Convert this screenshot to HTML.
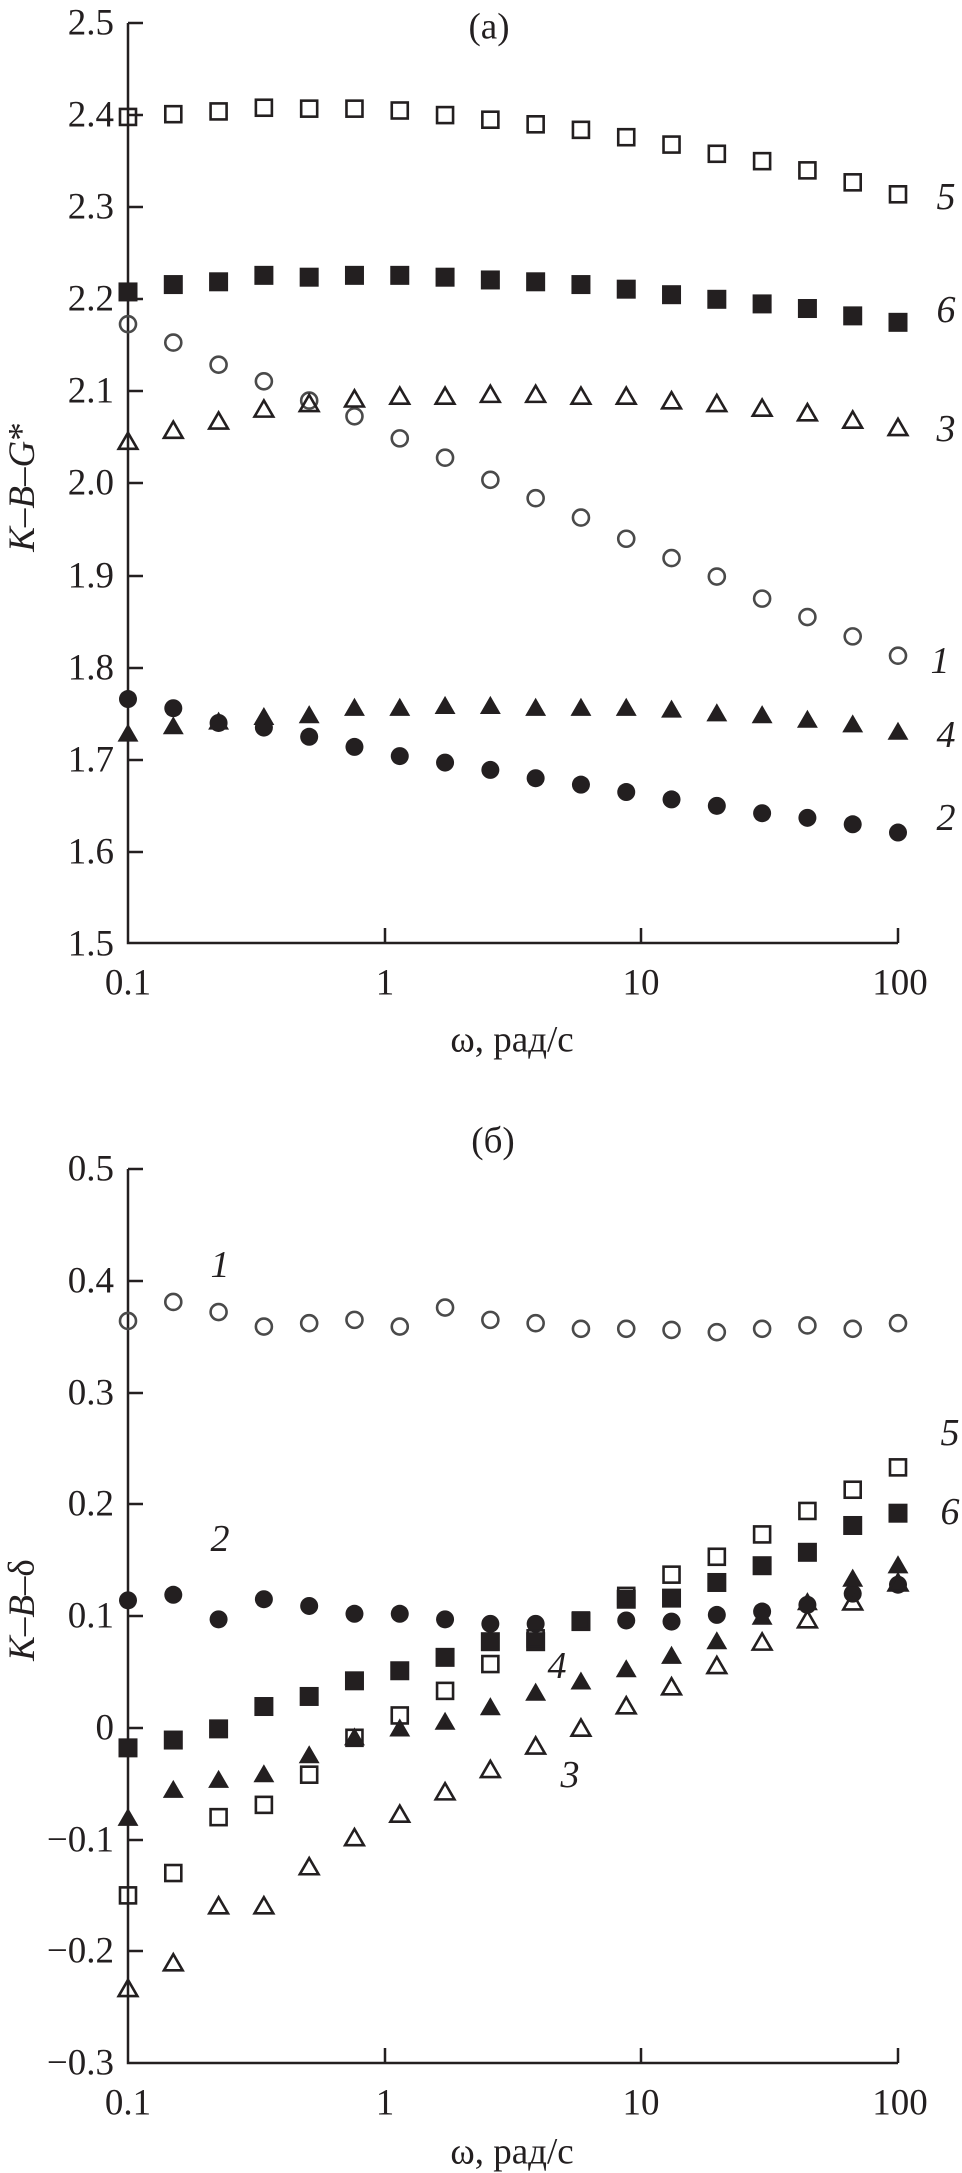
<!DOCTYPE html>
<html><head><meta charset="utf-8"><style>
html,body{margin:0;padding:0;background:#fff;}
svg{display:block;}
text{font-family:"Liberation Serif",serif;fill:#231f20;}
.t{font-size:37px;}
.l{font-size:38px;font-style:italic;}
</style></head><body>
<svg id="s" width="962" height="2173" viewBox="0 0 962 2173" xmlns="http://www.w3.org/2000/svg">
<g stroke="#231f20" stroke-width="2.5" fill="none">
<path d="M128,23 V943 H898"/>
<path d="M128,23 h15 M128,115 h15 M128,207 h15 M128,299 h15 M128,391 h15 M128,483 h15 M128,576 h15 M128,668 h15 M128,760 h15 M128,852 h15"/>
<path d="M385,943 v-15 M641,943 v-15 M898,943 v-15"/>
<path d="M128,1169 V2063 H898"/>
<path d="M128,1169 h15 M128,1281 h15 M128,1393 h15 M128,1504 h15 M128,1616 h15 M128,1728 h15 M128,1840 h15 M128,1951 h15"/>
<path d="M385,2063 v-15 M641,2063 v-15 M898,2063 v-15"/>
</g>
<g class="t" text-anchor="end" dominant-baseline="central">
<text x="114" y="23">2.5</text><text x="114" y="115">2.4</text><text x="114" y="207">2.3</text><text x="114" y="299">2.2</text><text x="114" y="391">2.1</text><text x="114" y="483">2.0</text><text x="114" y="576">1.9</text><text x="114" y="668">1.8</text><text x="114" y="760">1.7</text><text x="114" y="852">1.6</text><text x="114" y="944">1.5</text>
<text x="114" y="1169">0.5</text><text x="114" y="1281">0.4</text><text x="114" y="1393">0.3</text><text x="114" y="1504">0.2</text><text x="114" y="1616">0.1</text><text x="114" y="1728">0</text><text x="114" y="1840">−0.1</text><text x="114" y="1951">−0.2</text><text x="114" y="2063">−0.3</text>
</g>
<g class="t" text-anchor="middle" dominant-baseline="central">
<text x="128" y="983">0.1</text><text x="385" y="983">1</text><text x="641" y="983">10</text><text x="900" y="983">100</text>
<text x="512" y="1040">ω, рад/с</text>
<text x="489" y="27">(a)</text>
<text x="128" y="2103">0.1</text><text x="385" y="2103">1</text><text x="641" y="2103">10</text><text x="900" y="2103">100</text>
<text x="512" y="2152">ω, рад/с</text>
<text x="493" y="1141">(б)</text>
</g>
<text class="t" transform="translate(22,487) rotate(-90)" text-anchor="middle" dominant-baseline="central"><tspan font-style="italic">K</tspan>–<tspan font-style="italic">B</tspan>–<tspan font-style="italic">G</tspan>*</text>
<text class="t" transform="translate(22,1610) rotate(-90)" text-anchor="middle" dominant-baseline="central"><tspan font-style="italic">K</tspan>–<tspan font-style="italic">B</tspan>–δ</text>
<g class="l" text-anchor="middle" dominant-baseline="central">
<text x="946" y="197">5</text><text x="946" y="310">6</text><text x="946" y="429">3</text><text x="940" y="661">1</text><text x="946" y="735">4</text><text x="946" y="818">2</text>
<text x="220" y="1265">1</text><text x="220" y="1539">2</text><text x="950" y="1433">5</text><text x="950" y="1512">6</text><text x="557" y="1666">4</text><text x="570" y="1775">3</text>
</g>
<g id="m"></g>
</svg>
<script>
(function(){
var NS="http://www.w3.org/2000/svg",g=document.getElementById("m");
function X(i){return 128+i*770/17;}
function A(v){return 23+(2.5-v)*921;}
function B(v){return 1169+(0.5-v)*1117.5;}
function mk(type,x,y){
 var e;
 if(type=="os"||type=="fs"){e=document.createElementNS(NS,"rect");var s=type=="os"?16:19;e.setAttribute("x",x-s/2);e.setAttribute("y",y-s/2);e.setAttribute("width",s);e.setAttribute("height",s);}
 else if(type=="oc"||type=="fc"){e=document.createElementNS(NS,"circle");e.setAttribute("cx",x);e.setAttribute("cy",y);e.setAttribute("r",type=="oc"?8:9);}
 else {e=document.createElementNS(NS,"polygon");var h=type=="ot"?8.5:9.5;e.setAttribute("points",(x-h*1.1)+","+(y+h*0.8)+" "+(x+h*1.1)+","+(y+h*0.8)+" "+x+","+(y-h*1.1));}
 if(type.charAt(0)=="o"){e.setAttribute("fill","none");e.setAttribute("stroke",type=="oc"?"#4a4a4a":"#231f20");e.setAttribute("stroke-width","2.6");}
 else e.setAttribute("fill","#231f20");
 g.appendChild(e);
}
var dA={
os:[2.398,2.401,2.404,2.408,2.407,2.407,2.405,2.400,2.395,2.390,2.384,2.376,2.368,2.358,2.350,2.340,2.327,2.314],
fs:[2.208,2.216,2.219,2.226,2.224,2.226,2.226,2.224,2.221,2.219,2.216,2.211,2.205,2.200,2.195,2.190,2.182,2.175],
oc:[2.173,2.153,2.129,2.111,2.090,2.073,2.049,2.028,2.004,1.984,1.963,1.940,1.919,1.899,1.875,1.855,1.834,1.813],
ot:[2.045,2.057,2.067,2.080,2.086,2.091,2.094,2.094,2.096,2.096,2.094,2.094,2.089,2.086,2.081,2.076,2.068,2.060],
ft:[1.728,1.736,1.741,1.746,1.748,1.756,1.756,1.758,1.758,1.756,1.756,1.756,1.754,1.750,1.748,1.743,1.738,1.730],
fc:[1.766,1.756,1.740,1.735,1.725,1.714,1.704,1.697,1.689,1.680,1.673,1.665,1.657,1.650,1.642,1.637,1.630,1.621]};
var dB={
oc:[0.364,0.381,0.372,0.359,0.362,0.365,0.359,0.376,0.365,0.362,0.357,0.357,0.356,0.354,0.357,0.360,0.357,0.362],
fc:[0.114,0.119,0.097,0.115,0.109,0.102,0.102,0.097,0.093,0.093,0.095,0.096,0.095,0.101,0.104,0.110,0.120,0.128],
fs:[-0.018,-0.011,-0.001,0.019,0.028,0.042,0.051,0.063,0.077,0.077,0.095,0.115,0.116,0.130,0.145,0.157,0.181,0.192],
os:[-0.150,-0.130,-0.080,-0.069,-0.042,-0.009,0.011,0.033,0.057,0.080,0.096,0.118,0.137,0.153,0.173,0.194,0.213,0.233],
ft:[-0.081,-0.056,-0.047,-0.042,-0.025,-0.009,-0.001,0.005,0.018,0.031,0.041,0.052,0.064,0.077,0.099,0.112,0.133,0.145],
ot:[-0.234,-0.211,-0.160,-0.160,-0.125,-0.099,-0.078,-0.058,-0.038,-0.017,-0.001,0.019,0.036,0.055,0.076,0.096,0.112,0.129]};
var k,i;
for(k in dA){for(i=0;i<dA[k].length;i++)mk(k,X(i),A(dA[k][i]));}
for(k in dB){for(i=0;i<dB[k].length;i++)mk(k,X(i),B(dB[k][i]));}
})();
</script>
</body></html>
